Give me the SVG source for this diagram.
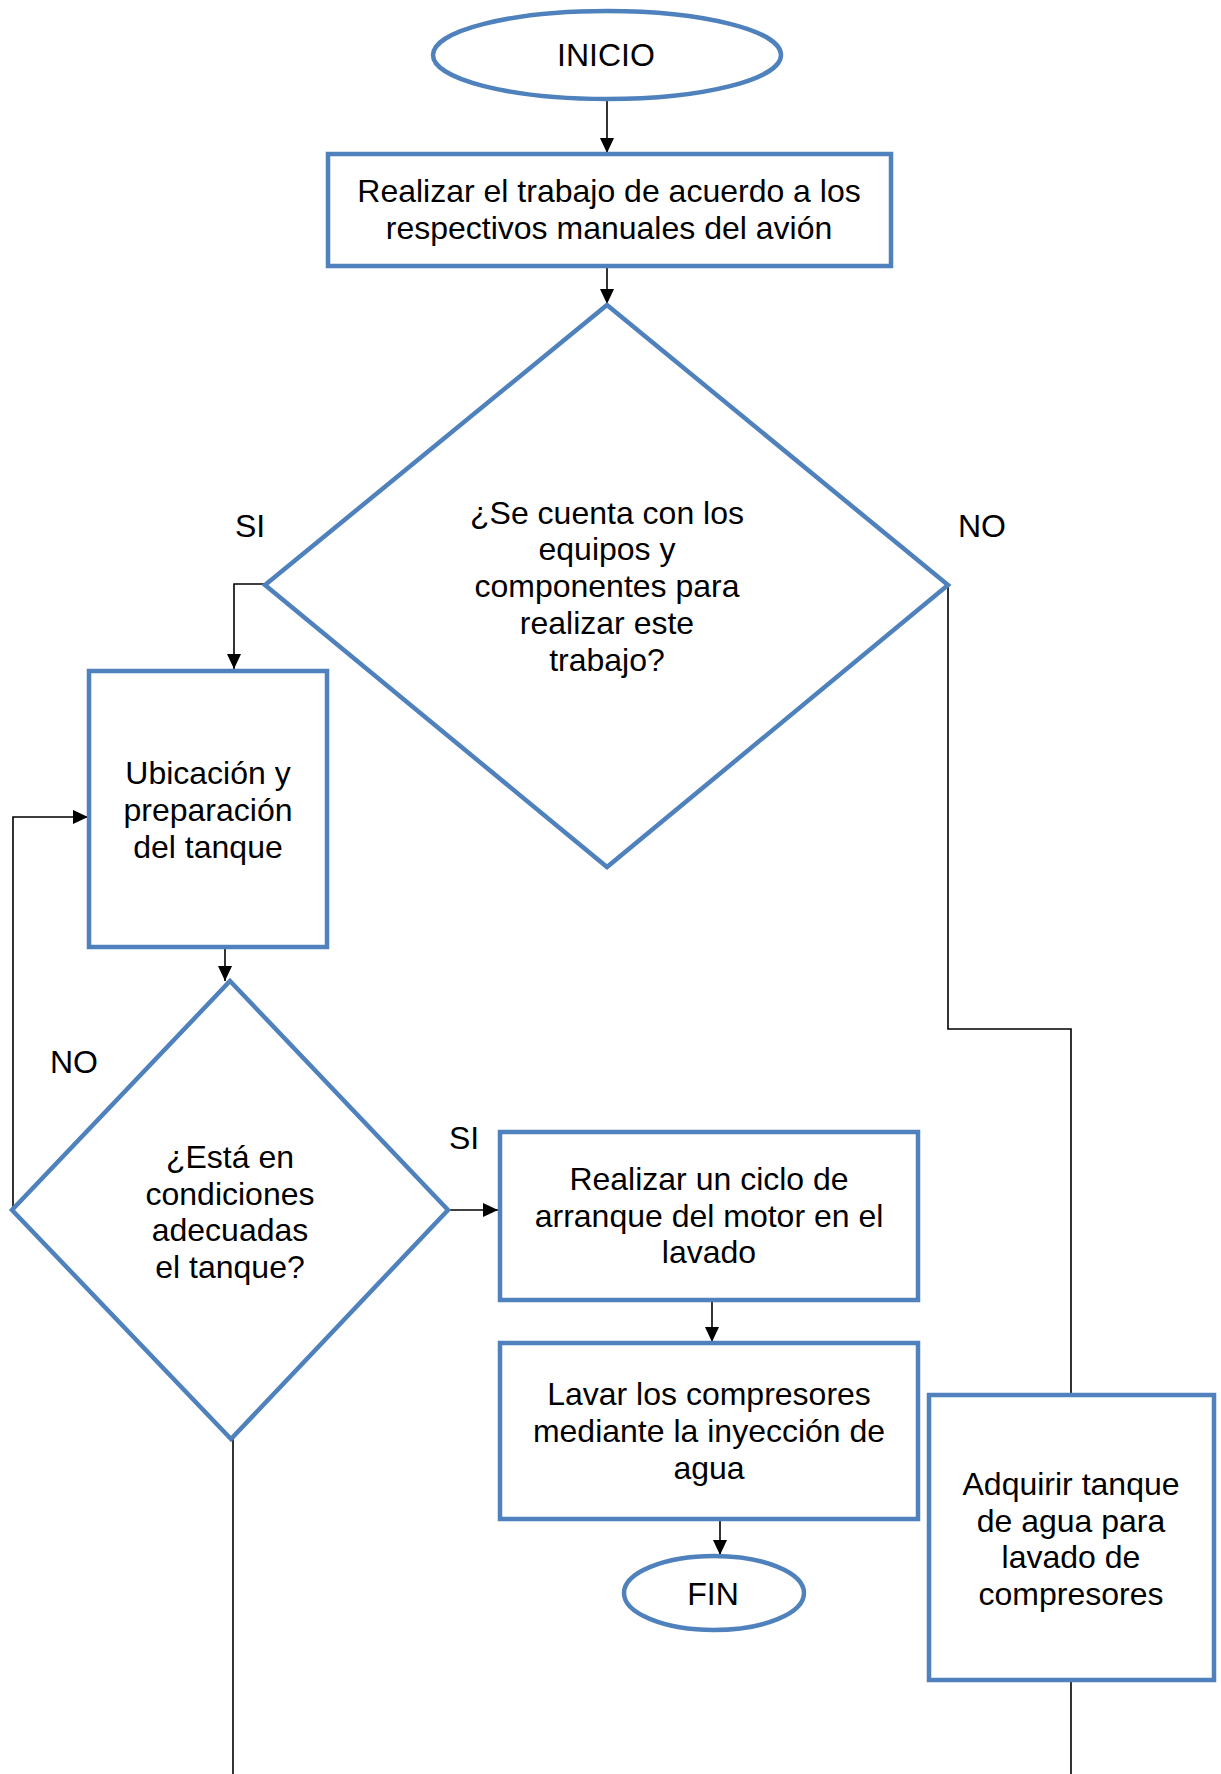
<svg xmlns="http://www.w3.org/2000/svg" width="1221" height="1774" viewBox="0 0 1221 1774">
<style>
.shape{fill:#fff;stroke:#4F81BD;stroke-width:4.5}
.conn{fill:none;stroke:#000;stroke-width:1.6}
text{font-family:"Liberation Sans",Arial,sans-serif;font-size:32px;fill:#000}
.c{text-anchor:middle}
</style>
<defs>
<marker id="arr" markerUnits="userSpaceOnUse" markerWidth="16" markerHeight="14" refX="15" refY="7" orient="auto">
<path d="M0,0 L15,7 L0,14 Z" fill="#000"/>
</marker>
</defs>
<rect width="1221" height="1774" fill="#fff"/>
<g id="connectors">
<line class="conn" x1="607" y1="99" x2="607" y2="153" marker-end="url(#arr)"/>
<line class="conn" x1="607" y1="266" x2="607" y2="304" marker-end="url(#arr)"/>
<path class="conn" d="M265,584 H234 V669" marker-end="url(#arr)"/>
<line class="conn" x1="225" y1="947" x2="225" y2="981" marker-end="url(#arr)"/>
<path class="conn" d="M13,1211 V817 H88" marker-end="url(#arr)"/>
<line class="conn" x1="449" y1="1210" x2="498" y2="1210" marker-end="url(#arr)"/>
<line class="conn" x1="712" y1="1300" x2="712" y2="1342" marker-end="url(#arr)"/>
<line class="conn" x1="720" y1="1519" x2="720" y2="1555" marker-end="url(#arr)"/>
<path class="conn" d="M948,585 V1029 H1071 V1395"/>
<line class="conn" x1="1071" y1="1680" x2="1071" y2="1774"/>
<line class="conn" x1="233" y1="1439" x2="233" y2="1774"/>
</g>
<g id="inicio">
<ellipse class="shape" cx="607" cy="55" rx="174" ry="44"/>
<text class="c" x="606" y="66">INICIO</text>
</g>
<g id="realizar-trabajo">
<rect class="shape" x="328" y="154" width="563" height="112"/>
<text class="c" x="609" y="202">Realizar el trabajo de acuerdo a los</text>
<text class="c" x="609" y="239">respectivos manuales del avión</text>
</g>
<g id="decision-equipos">
<polygon class="shape" points="607,305 948,585 607,867 265,585"/>
<text class="c" x="607" y="524">¿Se cuenta con los</text>
<text class="c" x="607" y="560">equipos y</text>
<text class="c" x="607" y="597">componentes para</text>
<text class="c" x="607" y="634">realizar este</text>
<text class="c" x="607" y="671">trabajo?</text>
</g>
<g id="label-si-1"><text x="235" y="537">SI</text></g>
<g id="label-no-1"><text x="958" y="537">NO</text></g>
<g id="ubicacion">
<rect class="shape" x="89" y="671" width="238" height="276"/>
<text class="c" x="208" y="784">Ubicación y</text>
<text class="c" x="208" y="821">preparación</text>
<text class="c" x="208" y="858">del tanque</text>
</g>
<g id="decision-tanque">
<polygon class="shape" points="230,981 448,1210 231,1439 12,1210"/>
<text class="c" x="230" y="1168">¿Está en</text>
<text class="c" x="230" y="1205">condiciones</text>
<text class="c" x="230" y="1241">adecuadas</text>
<text class="c" x="230" y="1278">el tanque?</text>
</g>
<g id="label-no-2"><text x="50" y="1073">NO</text></g>
<g id="label-si-2"><text x="449" y="1149">SI</text></g>
<g id="ciclo-arranque">
<rect class="shape" x="500" y="1132" width="418" height="168"/>
<text class="c" x="709" y="1190">Realizar un ciclo de</text>
<text class="c" x="709" y="1227">arranque del motor en el</text>
<text class="c" x="709" y="1263">lavado</text>
</g>
<g id="lavar-compresores">
<rect class="shape" x="500" y="1343" width="418" height="176"/>
<text class="c" x="709" y="1405">Lavar los compresores</text>
<text class="c" x="709" y="1442">mediante la inyección de</text>
<text class="c" x="709" y="1479">agua</text>
</g>
<g id="fin">
<ellipse class="shape" cx="714" cy="1593" rx="90" ry="37"/>
<text class="c" x="713" y="1605">FIN</text>
</g>
<g id="adquirir-tanque">
<rect class="shape" x="929" y="1395" width="285" height="285"/>
<text class="c" x="1071" y="1495">Adquirir tanque</text>
<text class="c" x="1071" y="1532">de agua para</text>
<text class="c" x="1071" y="1568">lavado de</text>
<text class="c" x="1071" y="1605">compresores</text>
</g>
</svg>
